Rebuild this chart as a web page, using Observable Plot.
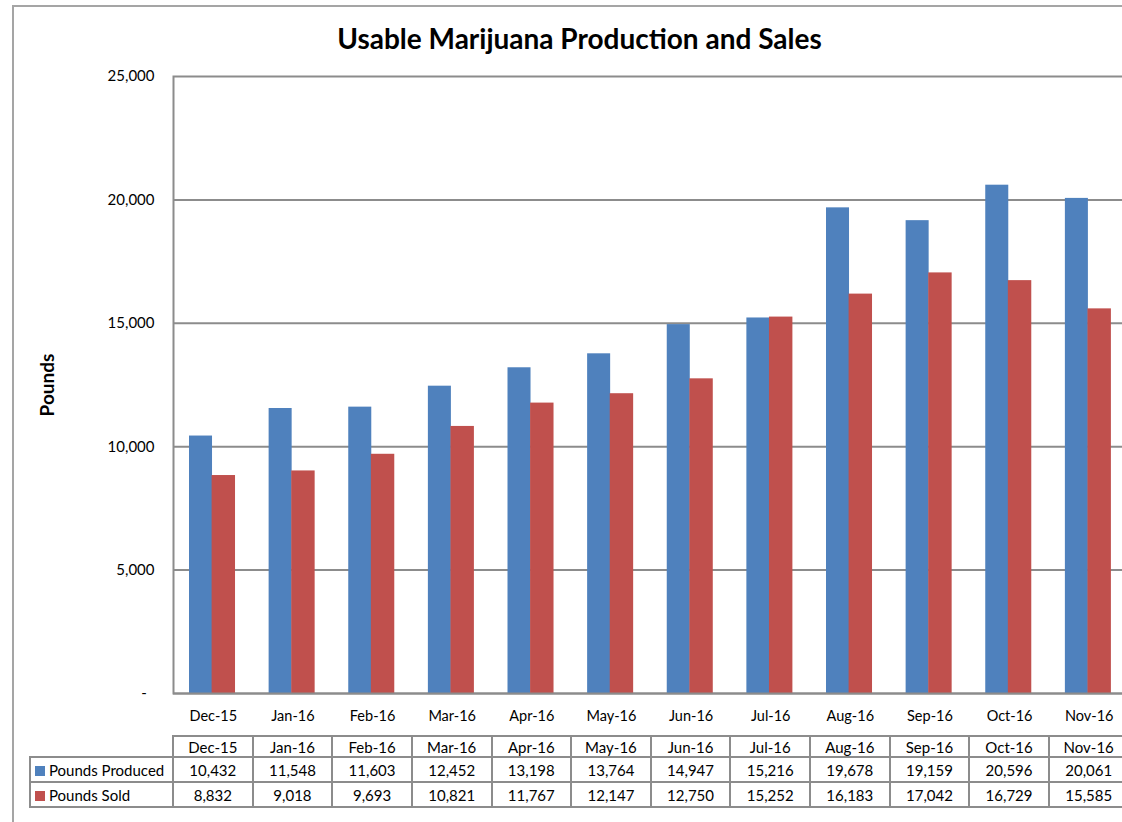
<!DOCTYPE html>
<html>
<head>
<meta charset="utf-8">
<script src="https://cdn.jsdelivr.net/npm/d3@7"></script>
<script src="https://cdn.jsdelivr.net/npm/@observablehq/plot@0.6"></script>
<style>
  html, body { margin: 0; padding: 0; background: #fff; }
  #wrap { position: relative; width: 1122px; height: 822px; overflow: hidden; font-family: Lato, "Open Sans", sans-serif; color: #000; }
  #frame { position: absolute; left: 12px; top: 5px; width: 1200px; height: 900px; border: 2px solid #a5a5a5; box-sizing: border-box; }
  #title { position: absolute; left: 0; width: 1159px; top: 20px; text-align: center; font-weight: bold; font-size: 28px; line-height: 36px; }
  #chart { position: absolute; left: 0; top: 0; }
  #chart svg { overflow: hidden; }
  #tbl { position: absolute; border-collapse: collapse; table-layout: fixed; font-size: 15px; }
  #tbl td { border: 2px solid #8c8c8c; padding: 0; text-align: center; white-space: nowrap; overflow: hidden; }
  #tbl td.lab { text-align: left; padding-left: 4px; }
  #tbl td.blank { border-top: none; border-left: none; }
  .sw { display: inline-block; width: 10px; height: 10px; margin-right: 4px; vertical-align: 0px; }
</style>
</head>
<body>
<div id="wrap">
  <div id="frame"></div>
  <div id="chart"></div>
  <div id="title">Usable Marijuana Production and Sales</div>
</div>
<script>
const months = ["Dec-15", "Jan-16", "Feb-16", "Mar-16", "Apr-16", "May-16", "Jun-16", "Jul-16", "Aug-16", "Sep-16", "Oct-16", "Nov-16"];
const produced = [10432, 11548, 11603, 12452, 13198, 13764, 14947, 15216, 19678, 19159, 20596, 20061];
const sold = [8832, 9018, 9693, 10821, 11767, 12147, 12750, 15252, 16183, 17042, 16729, 15585];
const seriesNames = ["Pounds Produced", "Pounds Sold"];
const seriesColors = ["#4F81BD", "#C0504D"];
const yTicks = [0, 5000, 10000, 15000, 20000, 25000];
const yLabel = "Pounds";

const fmt = d3.format(",");
const gridColor = "#8c8c8c";

const chart = Plot.plot({
  width: 1122,
  height: 822,
  marginTop: 76,
  marginBottom: 129,
  marginLeft: 173,
  marginRight: -6.5,
  style: { fontFamily: "Lato, 'Open Sans', sans-serif", fontSize: "14.5px", color: "#000", background: "transparent" },
  x: { domain: months, padding: 0, round: false },
  y: { domain: [0, 25000] },
  marks: [
    Plot.ruleY(yTicks.slice(1, -1), { stroke: gridColor, strokeWidth: 2 }),
    Plot.frame({ stroke: gridColor, strokeWidth: 2 }),
    Plot.barY(produced, { x: months, y: produced, fill: seriesColors[0], insetLeft: 16, insetRight: 40.6 }),
    Plot.barY(sold, { x: months, y: sold, fill: seriesColors[1], insetLeft: 38.6, insetRight: 17.6 }),
    Plot.ruleY([0], { stroke: gridColor, strokeWidth: 2 }),
    Plot.axisY({ ticks: yTicks, tickSize: 0, tickPadding: 19, label: null, fontSize: 15,
      tickFormat: d => d === 0 ? "-\u00a0\u00a0" : fmt(d) }),
    Plot.axisX({ tickSize: 0, tickPadding: 17, label: null }),
    Plot.text([yLabel], { text: d => d, frameAnchor: "left", textAnchor: "middle", dx: -126, rotate: -90,
      fontWeight: "bold", fontSize: 19, letterSpacing: "1px", fill: "#000" })
  ]
});
document.getElementById("chart").append(chart);

// Data table aligned with the chart's x scale
const xs = chart.scale("x");
const colLeft = xs.apply(months[0]);
const bw = xs.bandwidth;
const tableLeft = 30;
const tbl = document.createElement("table");
tbl.id = "tbl";
tbl.style.left = (tableLeft - 1) + "px";
tbl.style.top = "735px";
const cg = document.createElement("colgroup");
const c0 = document.createElement("col"); c0.style.width = (colLeft - tableLeft) + "px"; cg.append(c0);
months.forEach(() => { const c = document.createElement("col"); c.style.width = bw + "px"; cg.append(c); });
tbl.append(cg);
tbl.style.width = (colLeft - tableLeft + bw * months.length) + "px";

const hr = document.createElement("tr"); hr.style.height = "21px";
const blank = document.createElement("td"); blank.className = "blank"; hr.append(blank);
months.forEach(m => { const td = document.createElement("td"); td.textContent = m; hr.append(td); });
tbl.append(hr);
[produced, sold].forEach((vals, i) => {
  const tr = document.createElement("tr"); tr.style.height = "25px";
  const lab = document.createElement("td"); lab.className = "lab";
  const sw = document.createElement("span"); sw.className = "sw"; sw.style.background = seriesColors[i];
  lab.append(sw, document.createTextNode(seriesNames[i]));
  tr.append(lab);
  vals.forEach(v => { const td = document.createElement("td"); td.textContent = fmt(v); tr.append(td); });
  tbl.append(tr);
});
document.getElementById("wrap").append(tbl);
</script>
</body>
</html>
